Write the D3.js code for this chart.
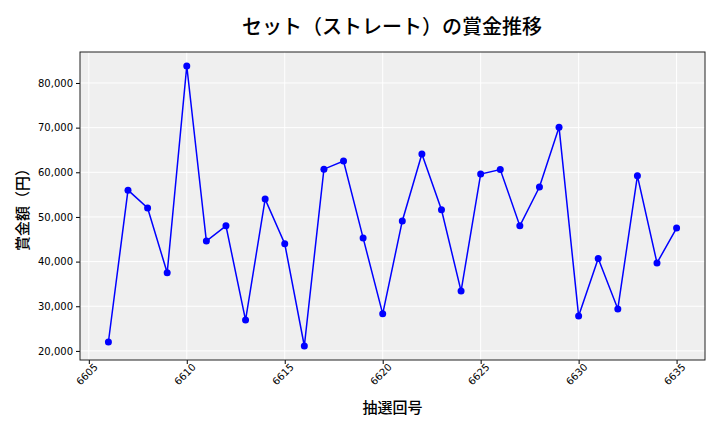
<!DOCTYPE html>
<html><head><meta charset="utf-8">
<script src="https://cdn.jsdelivr.net/npm/d3@7"></script>
<style>body{margin:0;background:#fff;}svg{display:block;font-family:"Noto Sans CJK JP","DejaVu Sans",sans-serif;}</style>
</head><body><svg id="c" width="720" height="432"></svg>
<script>
const draws = [6606,6607,6608,6609,6610,6611,6612,6613,6614,6615,6616,6617,6618,6619,6620,6621,6622,6623,6624,6625,6626,6627,6628,6629,6630,6631,6632,6633,6634,6635];
const prizes = [22000,56000,52000,37500,83800,44600,48000,26900,54000,44000,21100,60700,62500,45300,28300,49100,64100,51600,33400,59600,60600,48000,56700,70100,27800,40700,29400,59200,39700,47500];
const xTicks = [6605,6610,6615,6620,6625,6630,6635];
const yTicks = [20000,30000,40000,50000,60000,70000,80000];
const title = "セット（ストレート）の賞金推移";
const xLabel = "抽選回号";
const yLabel = "賞金額（円）";

const svg = d3.select("#c");
const L = 80, R = 705, T = 52, B = 360;
const xmin = d3.min(draws), xmax = d3.max(draws);
const xpad = (xmax - xmin) * 0.05;
const ymin = d3.min(prizes), ymax = d3.max(prizes);
const ypad = (ymax - ymin) * 0.05;
const x = d3.scaleLinear().domain([xmin - xpad, xmax + xpad]).range([L, R]);
const y = d3.scaleLinear().domain([ymin - ypad, ymax + ypad]).range([B, T]);

svg.append("rect").attr("x", L).attr("y", T).attr("width", R - L).attr("height", B - T).attr("fill", "#efefef");
// grid
svg.append("g").selectAll("line").data(xTicks).join("line")
  .attr("x1", d => x(d)).attr("x2", d => x(d)).attr("y1", T).attr("y2", B)
  .attr("stroke", "#fff").attr("stroke-width", 1);
svg.append("g").selectAll("line").data(yTicks).join("line")
  .attr("y1", d => y(d)).attr("y2", d => y(d)).attr("x1", L).attr("x2", R)
  .attr("stroke", "#fff").attr("stroke-width", 1);

// axes
const xAxis = svg.append("g").attr("transform", `translate(0,${B})`)
  .call(d3.axisBottom(x).tickValues(xTicks).tickFormat(d3.format("d")).tickSize(4).tickSizeOuter(0));
xAxis.select(".domain").remove();
xAxis.selectAll("text").attr("font-size", 10).attr("fill", "#000")
  .attr("text-anchor", "end").attr("dx", "0.1em").attr("dy", "0.5em")
  .attr("transform", "rotate(-45)").style("font-family", "'DejaVu Sans'");
const yAxis = svg.append("g").attr("transform", `translate(${L},0)`)
  .call(d3.axisLeft(y).tickValues(yTicks).tickFormat(d3.format(",")).tickSize(4).tickSizeOuter(0));
yAxis.select(".domain").remove();
yAxis.selectAll("text").attr("font-size", 10).attr("fill", "#000").style("font-family", "'DejaVu Sans'");

svg.append("rect").attr("x", L).attr("y", T).attr("width", R - L).attr("height", B - T)
  .attr("fill", "none").attr("stroke", "#222").attr("stroke-width", 1);

// line
const pts = draws.map((d, i) => [d, prizes[i]]);
svg.append("path").datum(pts)
  .attr("d", d3.line().x(d => x(d[0])).y(d => y(d[1])))
  .attr("fill", "none").attr("stroke", "#0000ff").attr("stroke-width", 1.5);
svg.append("g").selectAll("circle").data(pts).join("circle")
  .attr("cx", d => x(d[0])).attr("cy", d => y(d[1])).attr("r", 3.5).attr("fill", "#0000ff");

// labels
svg.append("text").attr("x", 392).attr("y", 34).attr("text-anchor", "middle")
  .attr("font-size", 20).attr("font-weight", 500).text(title);
svg.append("text").attr("x", (L + R) / 2).attr("y", 413).attr("text-anchor", "middle")
  .attr("font-size", 15).attr("font-weight", 500).text(xLabel);
svg.append("text").attr("transform", `translate(28,${(T + B) / 2}) rotate(-90)`).attr("text-anchor", "middle")
  .attr("font-size", 15).attr("font-weight", 500).text(yLabel);
</script></body></html>
